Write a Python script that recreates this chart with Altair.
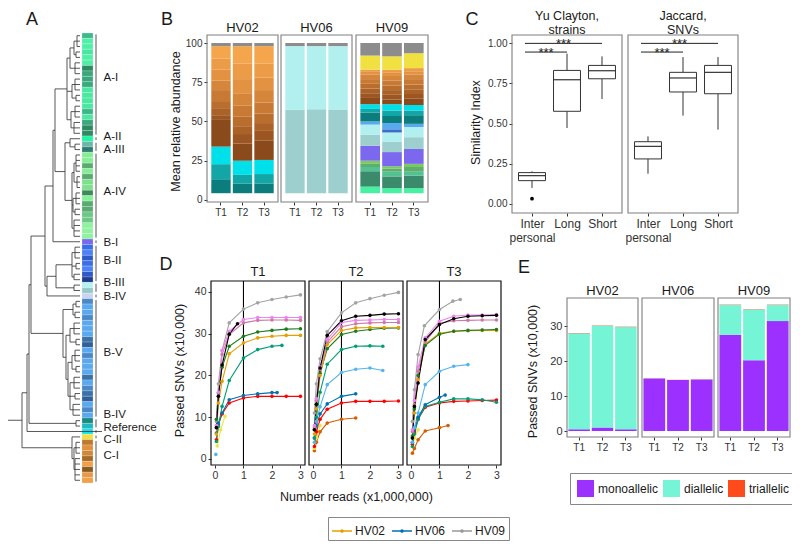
import altair as alt
import pandas as pd

FONT = "Liberation Sans"
W, H = 784, 541
M = 8  # page margin


def px(v):
    """reference page pixel -> chart canvas pixel"""
    return v - M


TICK = "#333333"
LAB = "#333333"
TTL = "#1a1a1a"

# ======================= DATA =======================
# ---- Panel A: clusters, leaf colours and tree (merge heights) ----
cluster_names = ["A-I", "A-II", "A-III", "A-IV", "B-I", "B-II", "B-III", "B-IV",
                 "B-V", "B-IV", "Reference", "C-II", "C-I"]
cluster_sizes = [19, 1, 2, 16, 1, 7, 2, 1, 22, 2, 1, 1, 8]
cluster_label_at = [7.8, 18.6, 21.1, 28.8, 38.2, 41.6, 45.7, 48.2, 58.5, 69.9, 72.3, 74.6, 77.6]
leaf_colors = [
    "#3cba8c", "#4ef0a6", "#4ef0a6", "#48e6a0", "#4ef0a6", "#4ef0a6", "#2f8a62", "#3aa87c",
    "#3aa87c", "#3aa87c", "#4ae8a0", "#4ae8a0", "#4ae8a0", "#4ae8a0", "#3db688", "#4ae8a0",
    "#3aa87c", "#2f8a62", "#2f8a62",
    "#20f5a5",
    "#6cb8a8", "#2f7d70",
    "#86ee96", "#86ee96", "#5aaa72", "#86ee96", "#5aaa72", "#7ee08c", "#7ee08c", "#3f8a5a",
    "#86f296", "#5aaa72", "#5aaa72", "#6cc884", "#6cc884", "#8ef2a0", "#8ef2a0", "#8ef2a0",
    "#7b68ee",
    "#3a6ee8", "#4a80f8", "#2f58c8", "#3a6ee8", "#4a80f8", "#2f58c8", "#1e3c8c",
    "#b4f2f2", "#96c8c8",
    "#c8d4f0",
    "#4a88c8", "#5aa8f0", "#5aa8f0", "#4a88c8", "#5aa8f0", "#5aa8f0", "#5aa8f0", "#3a72a8",
    "#30609a", "#5aa8f0", "#4a88c8", "#5aa8f0", "#5aa8f0", "#5aa8f0", "#3a72a8", "#5aa8f0",
    "#4a88c8", "#3a72a8", "#30609a", "#5aa8f0", "#4a88c8", "#5aa8f0",
    "#1a8a80", "#22b8c0",
    "#10e0f0",
    "#f0e040",
    "#c07830", "#e0903e", "#d08838", "#a86a28", "#f0a048", "#8a5a20", "#e89848", "#f0a048",
]
L = None
tree_AI = [13, [10, [6, [3, L, L, L], [4, L, L]], [5, L, L, L]],
           [8, [5, L, L, L], [4, L, L]],
           [9, [5, L, L, L], [6, L, L, L]]]
tree_AIII = [5, L, L]
tree_AIV = [8, [6, [4, L, L, L, L], [3, L, L, L]],
            [7, [4, L, L, L], [5, L, L]],
            [6, L, L, L, L]]
tree_BII = [8, [5, L, L, L], [4, L, L], [6, L, L]]
tree_BIII = [6, L, L]
tree_BV = [17, [7, [4, L, L], [5, L, L]],
           [14, [10, [6, L, L, L], [4, L, L]],
            [12, [8, [5, L, L, L], [4, L, L]],
             [10, [6, L, L, L], [5, L, L], [7, L, L, L]]]]]
tree_BIV2 = [4, L, L]
tree_CI = [6, [4, L, L, L], [5, L, L, L, L, L]]
tree = [58,
        [53,
         [51,
          [49,
           [35,
            [27, [25, tree_AI, [15, [10, L, tree_AIII], tree_AIV]], L],
            [33, [24, tree_BII, tree_BIII], L]],
           tree_BV],
          tree_BIV2],
         L],
        [8, L, tree_CI]]

# ---- Panel B: strain abundances (bottom -> top) ----
subjects = ["HV02", "HV06", "HV09"]
times = ["T1", "T2", "T3"]
strain_names = ["unassigned", "A-II", "A-I", "A-IV.1", "A-IV.2", "A-IV.3", "B-I", "B-III.1",
                "B-III.2", "B-II", "B-V", "B-IV.1", "B-IV.2", "Reference", "C-I.1", "C-I.2",
                "C-I.3", "C-I.4", "C-I.5", "C-I.6", "C-I.7", "C-I.8", "C-I.9", "C-II", "other"]
strain_colors = ["#ffffff", "#44f2a2", "#3a8a6c", "#52c292", "#5cb06c", "#7cc862", "#7b68ee",
                 "#9ecfcf", "#b2f0f0", "#3a6ec8", "#5aa8f0", "#0b7d7d", "#12a6a6", "#00e0ea",
                 "#8a4a1c", "#9c5622", "#ab6228", "#ba6e2e", "#c87a34", "#d5863a", "#e29240",
                 "#ec9c46", "#f5a64c", "#f0e040", "#8c8c8c"]
hv02_T1 = [4.3, 0, 0, 0, 0, 0, 0, 0, 0, 0, 0, 8.9, 9.6, 11.2, 17, 3, 4.5, 4.5, 7, 6, 7, 7, 8, 0, 2]
hv02_T2 = [4.3, 0, 0, 0, 0, 0, 0, 0, 0, 0, 0, 6.2, 5.5, 9, 11, 6, 5, 6, 7, 8, 9, 10, 11, 0, 2]
hv02_T3 = [4.3, 0, 0, 0, 0, 0, 0, 0, 0, 0, 0, 6.2, 6, 9, 12.5, 6, 5, 6, 7, 8, 8, 9, 11, 0, 2]
hv06_T1 = [4.3, 0, 0, 0, 0, 0, 0, 53.2, 40.5, 0, 0, 0, 0, 0, 0, 0, 0, 0, 0, 0, 0, 0, 0, 0, 2]
hv06_T2 = [4.3, 0, 0, 0, 0, 0, 0, 53.5, 40.2, 0, 0, 0, 0, 0, 0, 0, 0, 0, 0, 0, 0, 0, 0, 0, 2]
hv06_T3 = [4.3, 0, 0, 0, 0, 0, 0, 53.3, 40.4, 0, 0, 0, 0, 0, 0, 0, 0, 0, 0, 0, 0, 0, 0, 0, 2]
hv09_T1 = [4.3, 4.2, 9.8, 2.7, 2, 2, 9.5, 7, 6.5, 0, 2, 5.7, 2.3, 3, 4, 3, 3, 3, 3, 3, 2, 1, 0, 9, 8]
hv09_T2 = [4.3, 3.2, 7.5, 3, 2, 1.5, 9, 6.5, 6, 2, 4, 4.5, 3.5, 4, 3, 3, 3, 3, 3, 3, 2, 2, 0, 8.5, 8.5]
hv09_T3 = [4.3, 3.2, 8, 2.5, 3, 2, 9.5, 7.5, 6.5, 0, 2, 5.5, 3, 3.5, 4, 3, 3, 3, 3.5, 3, 2, 2, 0, 9.5, 6.5]

# ---- Panel C: boxplot statistics ----
c_titles = ["Yu Clayton,\nstrains", "Jaccard,\nSNVs"]
c_groups = ["Inter personal", "Long", "Short"]
yc_low = [0.100, 0.472, 0.652]
yc_q1 = [0.145, 0.576, 0.778]
yc_med = [0.176, 0.772, 0.828]
yc_q3 = [0.195, 0.830, 0.861]
yc_high = [0.203, 0.934, 0.917]
yc_outliers = [0.033]
jac_low = [0.188, 0.549, 0.462]
jac_q1 = [0.280, 0.696, 0.685]
jac_med = [0.358, 0.783, 0.818]
jac_q3 = [0.387, 0.818, 0.861]
jac_high = [0.420, 0.913, 0.913]
sig_from = [0.8, 0.8]
sig_to = [2.0, 3.0]
sig_y = [0.944, 0.998]
sig_text = ["***", "***"]

# ---- Panel D: rarefaction curves ----
reads = [0.05, 0.12, 0.25, 0.5, 1.0, 1.5, 2.0, 2.5, 3.0]
d_colors = {"gray": "#a3a3a3", "black": "#000000", "pink": "#ee82ee", "mauve": "#cc79a7",
            "dkgreen": "#1e7b1e", "orange": "#e69f00", "teal": "#009e73", "blue": "#0072b2",
            "ltblue": "#56b4e9", "red": "#ff0000", "dkorange": "#d55e00", "yellow": "#f0e442"}
t1_series = {
    "gray": (reads, [9, 18, 26, 32.6, 35.9, 37.4, 38.2, 38.8, 39.3]),
    "red": (reads, [4.6, 8.2, 10.8, 13.4, 14.6, 15, 15, 15, 15]),
    "blue": ([0.05, 0.12, 0.25, 0.5, 1, 1.5, 2, 2.18], [6.2, 8.6, 11, 14.2, 15.2, 15.6, 15.9, 15.9]),
    "teal": ([0.05, 0.12, 0.25, 0.5, 1, 1.5, 2, 2.35], [4.2, 7.8, 12.6, 18.8, 24.2, 26.2, 27, 27.2]),
    "orange": (reads, [6, 13.4, 18.6, 25.2, 27.8, 29, 29.4, 29.6, 29.6]),
    "dkgreen": (reads, [9.5, 15.8, 22, 27, 29.4, 30.4, 30.8, 31.1, 31.2]),
    "mauve": (reads, [7.5, 15, 25, 29.8, 32.6, 33.2, 33.3, 33.3, 33.2]),
    "pink": (reads, [8, 16, 26, 30.6, 33.4, 33.9, 33.9, 33.9, 33.9]),
    "black": ([0.05, 0.12, 0.25, 0.5, 0.79], [7.5, 15, 22.5, 29.9, 32.4]),
    "yellow": ([0.08, 0.2, 0.35], [3.1, 7, 10.2]),
    "ltblue": ([0.03], [1.1]),
}
t2_series = {
    "gray": (reads, [11, 18, 24, 30.5, 35, 37.4, 38.4, 39.2, 39.9]),
    "dkorange": ([0.05, 0.12, 0.25, 0.5, 1, 1.5], [2, 4, 6.5, 8.6, 9.5, 9.8]),
    "yellow": ([0.05, 0.12, 0.25], [2.5, 5, 8]),
    "red": (reads, [3, 6.5, 9.5, 11.9, 13.4, 13.8, 13.8, 13.8, 13.9]),
    "blue": ([0.05, 0.12, 0.25, 0.5, 1, 1.5], [5, 8, 10.8, 13.2, 15, 15.6]),
    "ltblue": ([0.05, 0.12, 0.25, 0.5, 1, 1.5, 2, 2.45], [4, 9, 12.5, 17.8, 20.7, 21.5, 21.8, 21.2]),
    "teal": ([0.05, 0.12, 0.25, 0.5, 1, 1.5, 2, 2.45], [5, 10, 16, 22.7, 26.2, 27, 27.1, 27]),
    "dkgreen": (reads, [7, 13, 20.5, 26.4, 29.8, 30.6, 31, 31.3, 31.4]),
    "orange": (reads, [6, 12, 20, 27.4, 30.8, 31.4, 31.5, 31.5, 31.5]),
    "mauve": (reads, [7.5, 14, 21.5, 28, 31.7, 32.4, 32.6, 32.7, 32.7]),
    "pink": (reads, [8, 14.5, 22, 28.6, 32.7, 33.2, 33.3, 33.4, 33.4]),
    "black": (reads, [7, 13.1, 21.8, 29.6, 33.1, 34.2, 34.4, 34.7, 34.8]),
}
t3_series = {
    "gray": ([0.05, 0.12, 0.25, 0.47, 1.0, 1.47, 1.73], [9, 16.6, 25, 31.9, 35.8, 37.8, 38.2]),
    "dkorange": ([0.05, 0.12, 0.25, 0.5, 1.0, 1.3], [1.4, 2.5, 4.6, 6.7, 7.5, 8]),
    "yellow": ([0.05, 0.12, 0.25], [3, 5, 7]),
    "red": (reads, [3.5, 6.5, 9.5, 12.4, 13.4, 13.8, 13.9, 14, 14.1]),
    "teal": (reads, [3, 6, 9.5, 12.6, 13.6, 14.4, 14.4, 14.2, 13.6]),
    "blue": ([0.05, 0.12, 0.25, 0.5, 1.0, 1.2], [4, 7, 10, 13, 14.8, 15.3]),
    "ltblue": ([0.05, 0.12, 0.25, 0.5, 1, 1.5, 2.0], [4, 7.5, 11, 17.8, 21, 22.2, 22.6]),
    "orange": (reads, [5, 11, 19, 27.5, 30.1, 30.6, 30.7, 30.8, 30.8]),
    "dkgreen": (reads, [5.5, 12, 20, 27.2, 29.9, 30.6, 30.8, 30.9, 31]),
    "mauve": (reads, [6.5, 13, 21, 28, 32.5, 33.1, 33.2, 33.3, 33.3]),
    "pink": (reads, [7, 14, 22, 29, 33, 34.2, 34.5, 34.5, 34.6]),
    "black": (reads, [5, 12.6, 18.2, 28.6, 32.2, 33.6, 34.2, 34.3, 34.4]),
}
d_legend_subjects = ["HV02", "HV06", "HV09"]
d_legend_colors = ["#e69f00", "#0072b2", "#999999"]

# ---- Panel E: passed SNVs by allele type (HV02 T1..T3, HV06 T1..T3, HV09 T1..T3) ----
e_types = ["monoallelic", "diallelic", "triallelic"]
e_colors = ["#9b30ff", "#76f5d6", "#ff4a1c"]
e_mono = [0.5, 1.0, 0.5, 15.0, 14.6, 14.7, 27.5, 20.2, 31.4]
e_di = [27.4, 29.1, 29.2, 0.0, 0.0, 0.0, 8.5, 14.5, 4.6]
e_tri = [0.1, 0.1, 0.1, 0.05, 0.05, 0.05, 0.1, 0.1, 0.1]


# ======================= HELPERS =======================
def ax_left(xc, values, fmt=None, size=10, title=None, tx=0, ty=0):
    kw = dict(orient="left", offset=-xc, values=values, domain=False, grid=False,
              ticks=True, tickSize=3, tickWidth=1, tickColor=TICK, labelFont=FONT,
              labelFontSize=size, labelColor=LAB, labelPadding=2, labelOverlap=False,
              labelFlush=False)
    if fmt:
        kw["format"] = fmt
    if title:
        kw.update(title=title, titleFont=FONT, titleFontSize=12.5, titleFontWeight="normal",
                  titleColor=TTL, titleX=tx, titleY=ty, titleAngle=270,
                  titleAlign="center", titleBaseline="middle")
    else:
        kw["title"] = None
    return alt.Axis(**kw)


def ax_bottom(yc, values=None, fmt=None, size=10, label_expr=None, line_height=None,
              title=None, tx=0, ty=0):
    kw = dict(orient="bottom", offset=yc - H, domain=False, grid=False, ticks=True,
              tickSize=3, tickWidth=1, tickColor=TICK, labelFont=FONT, labelFontSize=size,
              labelColor=LAB, labelPadding=2, labelAngle=0, labelOverlap=False,
              labelFlush=False)
    if values is not None:
        kw["values"] = values
    if fmt:
        kw["format"] = fmt
    if label_expr:
        kw["labelExpr"] = label_expr
    if line_height:
        kw["labelLineHeight"] = line_height
    if title:
        kw.update(title=title, titleFont=FONT, titleFontSize=12.5, titleFontWeight="normal",
                  titleColor=TTL, titleX=tx, titleY=ty, titleAngle=0,
                  titleAlign="center", titleBaseline="alphabetic")
    else:
        kw["title"] = None
    return alt.Axis(**kw)


def frame(x0, x1, y0, y1, color, sw=1.1):
    d = pd.DataFrame({"a": [0.0], "b": [1.0]})
    return alt.Chart(d).mark_rect(fill="white", fillOpacity=0, stroke=color,
                                  strokeWidth=sw).encode(
        x=alt.X("a:Q", scale=alt.Scale(domain=[0, 1], range=[x0, x1]), axis=None),
        x2="b:Q",
        y=alt.Y("a:Q", scale=alt.Scale(domain=[0, 1], range=[y1, y0]), axis=None),
        y2="b:Q",
    )


def note(text, x, y, size=13, align="center"):
    return alt.Chart(pd.DataFrame({"t": [text]})).mark_text(
        font=FONT, fontSize=size, align=align, baseline="alphabetic", color=TTL,
        lineBreak="\n", lineHeight=14
    ).encode(x=alt.value(x), y=alt.value(y), text="t:N")


layers = []

# ======================= PANEL A =======================
segs = []
counter = [0]


def walk(node):
    if node is None:
        i = counter[0]
        counter[0] += 1
        return 0.0, float(i)
    h = node[0]
    kids = [walk(k) for k in node[1:]]
    ys = [ky for _, ky in kids]
    for kh, ky in kids:
        segs.append({"h1": h, "h2": kh, "y1": ky, "y2": ky})
    segs.append({"h1": h, "h2": h, "y1": min(ys), "y2": max(ys)})
    return h, (min(ys) + max(ys)) / 2


root_h, root_y = walk(tree)
segs.append({"h1": 72.0, "h2": root_h, "y1": root_y, "y2": root_y})
n_leaves = len(leaf_colors)

a_x = alt.Scale(domain=[72, -30], range=[0, 102], nice=False, zero=False)
a_y = alt.Scale(domain=[-0.5, n_leaves - 0.5], range=[px(33), px(483)], nice=False, zero=False)

dend = alt.Chart(pd.DataFrame(segs)).mark_rule(color="#3a3a3a", strokeWidth=0.85).encode(
    x=alt.X("h1:Q", scale=a_x, axis=None), x2="h2:Q",
    y=alt.Y("y1:Q", scale=a_y, axis=None), y2="y2:Q")

strip = alt.Chart(pd.DataFrame({"leaf": list(range(n_leaves)), "color": leaf_colors})
                  ).transform_calculate(
    top="datum.leaf - 0.5", bot="datum.leaf + 0.5", left="-2", right="-13"
).mark_rect(stroke="white", strokeWidth=0.4, strokeOpacity=0.5).encode(
    x=alt.X("left:Q", scale=a_x, axis=None), x2="right:Q",
    y=alt.Y("top:Q", scale=a_y, axis=None), y2="bot:Q",
    color=alt.Color("color:N", scale=None))

starts, s = [], 0
for n in cluster_sizes:
    starts.append(s)
    s += n
ends = [st + n - 1 for st, n in zip(starts, cluster_sizes)]
cl_df = pd.DataFrame({"name": cluster_names, "start": starts, "end": ends,
                      "lab": cluster_label_at})
brackets = alt.Chart(cl_df).transform_calculate(
    b1="datum.start - 0.25", b2="datum.end + 0.25", bx="-16"
).mark_rule(color="#555555", strokeWidth=1).encode(
    x=alt.X("bx:Q", scale=a_x, axis=None),
    y=alt.Y("b1:Q", scale=a_y, axis=None), y2="b2:Q")
cl_labels = alt.Chart(cl_df).transform_calculate(lx="-23.5").mark_text(
    align="left", baseline="middle", font=FONT, fontSize=11.5, color=TTL
).encode(x=alt.X("lx:Q", scale=a_x, axis=None),
         y=alt.Y("lab:Q", scale=a_y, axis=None), text="name:N")
ref_leaf = starts[cluster_names.index("Reference")]
leader = alt.Chart(pd.DataFrame({"y": [float(ref_leaf)], "h1": [0.0], "h2": [-22.0]})
                   ).mark_rule(color="#3a3a3a", strokeWidth=0.85).encode(
    x=alt.X("h1:Q", scale=a_x, axis=None), x2="h2:Q",
    y=alt.Y("y:Q", scale=a_y, axis=None))
layers.append(alt.layer(strip, dend, brackets, leader, cl_labels))

# ======================= PANEL B =======================
b_arrays = {"HV02": [hv02_T1, hv02_T2, hv02_T3],
            "HV06": [hv06_T1, hv06_T2, hv06_T3],
            "HV09": [hv09_T1, hv09_T2, hv09_T3]}
rows = []
for sub in subjects:
    for t, arr in zip(times, b_arrays[sub]):
        for k, (nm, v) in enumerate(zip(strain_names, arr)):
            rows.append({"subject": sub, "time": t, "strain": nm, "k": k, "abund": v})
b_df = pd.DataFrame(rows)
B_X = [(px(207), px(278)), (px(281), px(352)), (px(356), px(428))]
B_TOP, B_BOT = px(35), px(202)
b_y = alt.Scale(domain=[-1.3, 105.1], range=[B_BOT, B_TOP], nice=False, zero=False)
for i, sub in enumerate(subjects):
    x0, x1 = B_X[i]
    yax = ax_left(x0, [0, 25, 50, 75, 100], size=10, title="Mean relative abundance",
                  tx=px(175) - x0, ty=px(121)) if i == 0 else None
    bars = alt.Chart(b_df[b_df.subject == sub]).mark_bar(strokeWidth=0).encode(
        x=alt.X("time:N", scale=alt.Scale(domain=times, range=[x0, x1], paddingInner=0.1,
                                          paddingOuter=0.2), axis=ax_bottom(B_BOT, size=10)),
        y=alt.Y("abund:Q", stack="zero", scale=b_y, axis=yax),
        color=alt.Color("strain:N", scale=alt.Scale(domain=strain_names, range=strain_colors),
                        legend=None),
        order=alt.Order("k:Q", sort="ascending"))
    layers.append(bars)
    layers.append(frame(x0, x1, B_TOP, B_BOT, "#7f7f7f"))
    layers.append(note(sub, (x0 + x1) / 2, px(32), 13))

# ======================= PANEL C =======================
C_X = [(px(512), px(622)), (px(628), px(738))]
C_TOP, C_BOT = px(35), px(213)
c_y = alt.Scale(domain=[-0.056, 1.05], range=[C_BOT, C_TOP], nice=False, zero=False)
c_label_expr = "[" + ",".join(
    "[" + ",".join("'" + w + "'" for w in g.split(" ")) + "]" for g in c_groups
) + "][datum.value - 1]"
c_stats = [(yc_low, yc_q1, yc_med, yc_q3, yc_high, yc_outliers),
           (jac_low, jac_q1, jac_med, jac_q3, jac_high, [])]
BOXC = "#333333"
for i, (lo, q1, md, q3, hi, outl) in enumerate(c_stats):
    x0, x1 = C_X[i]
    c_x = alt.Scale(domain=[0.4286, 3.5714], range=[x0, x1], nice=False, zero=False)
    xax = ax_bottom(C_BOT, values=[1, 2, 3], size=12, label_expr=c_label_expr, line_height=14)
    yax = ax_left(x0, [0, 0.25, 0.5, 0.75, 1.0], fmt=".2f", size=10,
                  title="Similarity Index", tx=px(475) - x0, ty=px(122)) if i == 0 else None
    xk = dict(scale=c_x, axis=xax)
    yk = dict(scale=c_y, axis=yax)
    df = pd.DataFrame({"pos": [1, 2, 3], "group": c_groups, "low": lo, "q1": q1, "med": md,
                       "q3": q3, "high": hi})
    base = alt.Chart(df).transform_calculate(xl="datum.pos - 0.385", xr="datum.pos + 0.385")
    w_lo = base.mark_rule(color=BOXC, strokeWidth=1).encode(
        x=alt.X("pos:Q", **xk), y=alt.Y("low:Q", **yk), y2="q1:Q")
    w_hi = base.mark_rule(color=BOXC, strokeWidth=1).encode(
        x=alt.X("pos:Q", **xk), y=alt.Y("q3:Q", **yk), y2="high:Q")
    box = base.mark_rect(fill="white", stroke=BOXC, strokeWidth=1).encode(
        x=alt.X("xl:Q", **xk), x2="xr:Q", y=alt.Y("q1:Q", **yk), y2="q3:Q")
    med = base.mark_rule(color=BOXC, strokeWidth=1.2).encode(
        x=alt.X("xl:Q", **xk), x2="xr:Q", y=alt.Y("med:Q", **yk))
    sig = alt.Chart(pd.DataFrame({"f": sig_from, "t": sig_to, "y": sig_y, "s": sig_text}))
    sig_rule = sig.mark_rule(color="#222222", strokeWidth=1).encode(
        x=alt.X("f:Q", **xk), x2="t:Q", y=alt.Y("y:Q", **yk))
    sig_lab = sig.transform_calculate(mid="(datum.f + datum.t) / 2").mark_text(
        font=FONT, fontSize=13, color="#222222", baseline="alphabetic", dy=4.5
    ).encode(x=alt.X("mid:Q", **xk), y=alt.Y("y:Q", **yk), text="s:N")
    parts = [w_lo, w_hi, box, med, sig_rule, sig_lab]
    if outl:
        out_df = pd.DataFrame({"pos": [1] * len(outl), "v": outl})
        parts.append(alt.Chart(out_df).mark_circle(size=14, color="black", opacity=1).encode(
            x=alt.X("pos:Q", **xk), y=alt.Y("v:Q", **yk)))
    layers.append(alt.layer(*parts))
    layers.append(frame(x0, x1, C_TOP, C_BOT, "#7f7f7f"))
    layers.append(note(c_titles[i], (x0 + x1) / 2, 12, 12.5))

# ======================= PANEL D =======================
D_X = [(px(211), px(305)), (px(309), px(403)), (px(407), px(501))]
D_TOP, D_BOT = px(281), px(465)
d_xdom = [-0.14, 3.16]
d_ydom = [-1.44, 42.63]
d_y = alt.Scale(domain=d_ydom, range=[D_BOT, D_TOP], nice=False, zero=False)
for i, (panel, series) in enumerate(zip(times, [t1_series, t2_series, t3_series])):
    x0, x1 = D_X[i]
    rows = []
    for nm, (xs, ys) in series.items():
        for j, (xv, yv) in enumerate(zip(xs, ys)):
            rows.append({"series": nm, "color": d_colors[nm], "reads": xv, "snv": yv, "seq": j})
    df = pd.DataFrame(rows)
    d_x = alt.Scale(domain=d_xdom, range=[x0, x1], nice=False, zero=False)
    xax = ax_bottom(D_BOT, values=[0, 1, 2, 3], fmt="d", size=10.5,
                    title="Number reads (x1,000,000)" if i == 1 else None,
                    tx=(x0 + x1) / 2, ty=px(500) - D_BOT)
    yax = ax_left(x0, [0, 10, 20, 30, 40], fmt="d", size=10.5,
                  title="Passed SNVs (x10,000)", tx=px(179) - x0, ty=px(370)) if i == 0 else None
    xk = dict(scale=d_x, axis=xax)
    yk = dict(scale=d_y, axis=yax)
    vline = alt.Chart(pd.DataFrame({"v": [1.0], "lo": [d_ydom[0]], "hi": [d_ydom[1]]})
                      ).mark_rule(color="black", strokeWidth=1.1).encode(
        x=alt.X("v:Q", **xk), y=alt.Y("lo:Q", **yk), y2="hi:Q")
    lines = alt.Chart(df).mark_line(strokeWidth=1.1).encode(
        x=alt.X("reads:Q", **xk), y=alt.Y("snv:Q", **yk),
        color=alt.Color("color:N", scale=None), detail="series:N", order="seq:Q")
    pts = alt.Chart(df).mark_circle(size=13, opacity=1).encode(
        x=alt.X("reads:Q", **xk), y=alt.Y("snv:Q", **yk),
        color=alt.Color("color:N", scale=None))
    layers.append(alt.layer(vline, lines, pts))
    layers.append(frame(x0, x1, D_TOP, D_BOT, "#111111", 1.2))
    layers.append(note(panel, (x0 + x1) / 2, px(276), 13))

LINE_DOT = "M-1,0H1M0.12,0A0.12,0.12,0,1,1,-0.12,0A0.12,0.12,0,1,1,0.12,0Z"
d_legend = alt.Chart(pd.DataFrame({"subject": d_legend_subjects})).mark_line().encode(
    x=alt.value(0), y=alt.value(0),
    color=alt.Color("subject:N",
                    scale=alt.Scale(domain=d_legend_subjects, range=d_legend_colors),
                    legend=alt.Legend(orient="none", legendX=px(328), legendY=px(517),
                                      direction="horizontal", title=None, symbolType=LINE_DOT,
                                      symbolSize=400, symbolStrokeWidth=1.3, labelFont=FONT,
                                      labelFontSize=12, labelColor=TTL, labelOffset=2,
                                      columnPadding=3, padding=3, strokeColor="#888888",
                                      fillColor="white")))
layers.append(d_legend)

# ======================= PANEL E =======================
E_X = [(px(567), px(638)), (px(642), px(714)), (px(718), px(790))]
E_TOP, E_BOT = px(298), px(437)
e_y = alt.Scale(domain=[-1.71, 38], range=[E_BOT, E_TOP], nice=False, zero=False)
rows = []
idx = 0
for sub in subjects:
    for t in times:
        for k, (tp, arr) in enumerate(zip(e_types, [e_mono, e_di, e_tri])):
            rows.append({"subject": sub, "time": t, "type": tp, "k": k, "value": arr[idx]})
        idx += 1
e_df = pd.DataFrame(rows)
for i, sub in enumerate(subjects):
    x0, x1 = E_X[i]
    yax = ax_left(x0, [0, 10, 20, 30], fmt="d", size=11, title="Passed SNVs (x10,000)",
                  tx=px(532) - x0, ty=px(371)) if i == 0 else None
    leg = alt.Legend(orient="none", legendX=px(570), legendY=px(473), direction="horizontal",
                     title=None, symbolType="square", symbolSize=289, symbolStrokeWidth=0,
                     labelFont=FONT, labelFontSize=12, labelColor=TTL, labelOffset=4,
                     columnPadding=4, padding=7, strokeColor="#888888",
                     fillColor="white") if i == 0 else None
    bars = alt.Chart(e_df[e_df.subject == sub]).mark_bar(strokeWidth=0).encode(
        x=alt.X("time:N", scale=alt.Scale(domain=times, range=[x0, x1], paddingInner=0.08,
                                          paddingOuter=0.06), axis=ax_bottom(E_BOT, size=10)),
        y=alt.Y("value:Q", stack="zero", scale=e_y, axis=yax),
        color=alt.Color("type:N", scale=alt.Scale(domain=e_types, range=e_colors), legend=leg),
        order=alt.Order("k:Q", sort="ascending"))
    layers.append(bars)
    layers.append(frame(x0, x1, E_TOP, E_BOT, "#7f7f7f"))
    layers.append(note(sub, (x0 + x1) / 2, px(295), 13))

# ======================= PANEL LETTERS =======================
for letter, lx, ly in [("A", 32, 25), ("B", 167, 25), ("C", 472, 25), ("D", 166, 270),
                       ("E", 524, 273)]:
    layers.append(note(letter, px(lx), px(ly), 18))

chart = alt.layer(*layers).resolve_scale(
    x="independent", y="independent", color="independent"
).properties(
    width=W, height=H, padding=0, autosize=alt.AutoSizeParams(type="none")
).configure_view(strokeWidth=0)

chart.save("out.html", embed_options={"renderer": "svg", "actions": False})
